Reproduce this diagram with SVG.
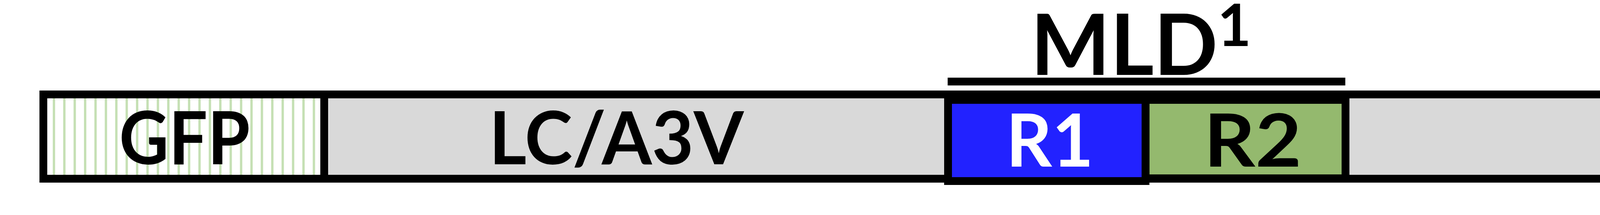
<svg xmlns="http://www.w3.org/2000/svg" width="4468" height="551" viewBox="0 0 4468 551">
  <style>
    .box { stroke: #000000; stroke-width: 20; }
    .lbl { font-family: Lato, "Liberation Sans", "DejaVu Sans", sans-serif; font-weight: 700; text-anchor: middle; }
    .big { font-size: 187px; }
    .title { font-size: 216px; }
  </style>
  <defs>
    <pattern id="stripes" patternUnits="userSpaceOnUse" x="135.1" y="0" width="26.62" height="551">
      <rect x="0" y="0" width="26.62" height="551" fill="#ffffff"/>
      <rect x="0" y="0" width="6" height="551" fill="#c5e0b4"/>
    </pattern>
  </defs>
  <rect x="0" y="0" width="4468" height="551" fill="#ffffff"/>

  <g id="bar">
    <rect class="box" x="111" y="242" width="4259" height="216" fill="#d9d9d9"/>
  </g>

  <g id="gfp">
    <rect class="box" x="111" y="242" width="719" height="216" fill="url(#stripes)"/>
    <text class="lbl big" x="472.5" y="420.6" textLength="335" lengthAdjust="spacingAndGlyphs" fill="#000000">GFP</text>
  </g>

  <g id="lc-a3v">
    <text class="lbl big" x="1578" y="420.6" textLength="652" lengthAdjust="spacingAndGlyphs" fill="#000000">LC/A3V</text>
  </g>

  <g id="r2">
    <rect class="box" x="2932.5" y="256" width="512" height="201" fill="#94b96e"/>
    <text class="lbl big" x="3207" y="427.3" textLength="250" lengthAdjust="spacingAndGlyphs" fill="#000000">R2</text>
  </g>

  <g id="r1">
    <rect class="box" x="2427" y="256" width="505.5" height="208" fill="#2222ff"/>
    <text class="lbl big" x="2687.5" y="427.3" textLength="224" lengthAdjust="spacingAndGlyphs" fill="#ffffff">R1</text>
  </g>

  <g id="mld">
    <rect x="2426" y="199" width="1018" height="20" fill="#000000"/>
    <text class="lbl title" x="2878" y="192.2" textLength="479" lengthAdjust="spacingAndGlyphs" fill="#000000">MLD</text>
    <text class="lbl" x="3160" y="118.4" font-size="149" fill="#000000">1</text>
  </g>

  <g id="connectors"></g>
</svg>
